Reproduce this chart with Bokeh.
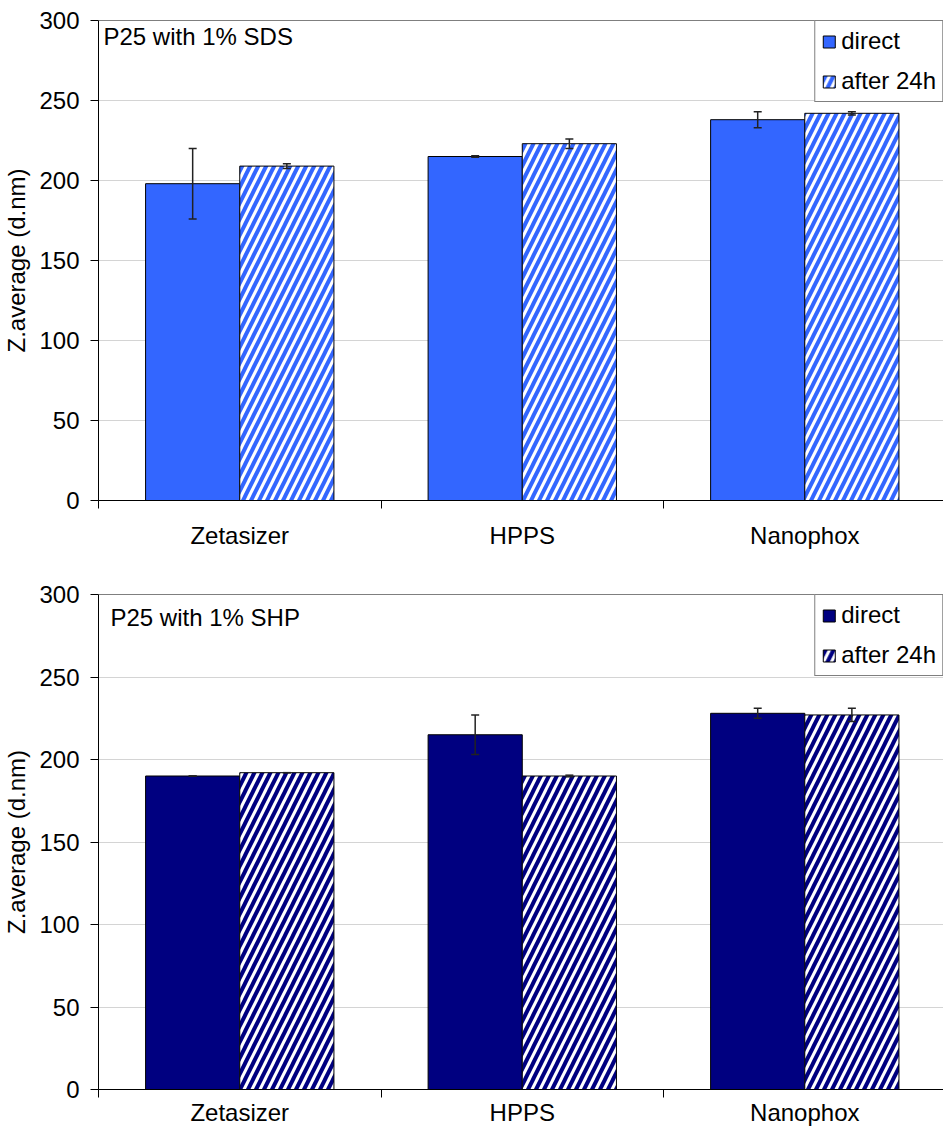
from bokeh.plotting import figure
from bokeh.models import (ColumnDataSource, Whisker, TeeHead, Legend, LegendItem,
                          Label, Span, Range1d, FixedTicker)
from bokeh.layouts import column
from bokeh.embed import file_html
from bokeh.resources import INLINE

# ---- data ----
instruments = ["Zetasizer", "HPPS", "Nanophox"]
series_labels = ["direct", "after 24h"]
titles = ["P25 with 1% SDS", "P25 with 1% SHP"]

sds_direct = [198, 215, 238]
sds_direct_err = [22, 0.5, 5]
sds_after = [209, 223, 242]
sds_after_err = [1.5, 3, 1]

shp_direct = [190, 215, 228]
shp_direct_err = [0, 12, 3]
shp_after = [192, 190, 227]
shp_after_err = [0, 0.5, 4]

y_ticks = [0, 50, 100, 150, 200, 250, 300]
y_label = "Z.average (d.nm)"

FONT = "Liberation Sans"
FS = "24px"


def make_chart(title, direct, direct_err, after, after_err, color,
               frame_h, top_border, bottom_border, label_standoff, title_dx, title_y):
    n = len(instruments)
    p = figure(frame_width=845, frame_height=frame_h, output_backend="svg",
               toolbar_location=None,
               x_range=Range1d(0, 2.991), y_range=Range1d(0, 300),
               min_border_left=90, min_border_right=0,
               min_border_top=top_border, min_border_bottom=bottom_border)
    p.outline_line_color = None
    p.background_fill_color = "white"
    p.border_fill_color = "white"

    centers = [i + 0.5 for i in range(n)]
    src_d = ColumnDataSource(dict(x=[c - 1 / 6 for c in centers], top=direct,
                                  upper=[v + e for v, e in zip(direct, direct_err)],
                                  lower=[v - e for v, e in zip(direct, direct_err)]))
    src_a = ColumnDataSource(dict(x=[c + 1 / 6 for c in centers], top=after,
                                  upper=[v + e for v, e in zip(after, after_err)],
                                  lower=[v - e for v, e in zip(after, after_err)]))

    r1 = p.vbar(x="x", top="top", width=1 / 3, source=src_d, fill_color=color,
                line_color="black", line_width=1)
    r2 = p.vbar(x="x", top="top", width=1 / 3, source=src_a, fill_color="white",
                hatch_pattern="/", hatch_color=color, hatch_scale=16, hatch_weight=4,
                line_color="black", line_width=1)

    for src in (src_d, src_a):
        w = Whisker(base="x", upper="upper", lower="lower", source=src,
                    line_color="#222222", line_width=1.5, level="overlay",
                    upper_head=TeeHead(size=8, line_color="#222222", line_width=1.5),
                    lower_head=TeeHead(size=8, line_color="#222222", line_width=1.5))
        p.add_layout(w)

    # top border of plot area
    p.add_layout(Span(location=300, dimension="width", line_color="black", line_width=1))

    # axes
    p.yaxis.ticker = FixedTicker(ticks=y_ticks)
    p.yaxis.minor_tick_line_color = None
    p.yaxis.major_tick_out = 8
    p.yaxis.major_tick_in = 0
    p.yaxis.axis_line_color = "black"
    p.yaxis.major_tick_line_color = "black"
    p.yaxis.major_label_text_font = FONT
    p.yaxis.major_label_text_font_size = FS
    p.yaxis.major_label_text_color = "black"
    p.yaxis.major_label_standoff = 11
    p.yaxis.axis_label = y_label
    p.yaxis.axis_label_text_font = FONT
    p.yaxis.axis_label_text_font_size = FS
    p.yaxis.axis_label_text_font_style = "normal"
    p.yaxis.axis_label_text_color = "black"
    p.yaxis.axis_label_standoff = 6

    p.xaxis.ticker = FixedTicker(ticks=centers, minor_ticks=list(range(n + 1)))
    p.xaxis.major_label_overrides = {c: name for c, name in zip(centers, instruments)}
    p.xaxis.major_tick_line_color = None
    p.xaxis.major_tick_out = 0
    p.xaxis.major_tick_in = 0
    p.xaxis.minor_tick_line_color = "black"
    p.xaxis.minor_tick_out = 8
    p.xaxis.minor_tick_in = 0
    p.xaxis.axis_line_color = "black"
    p.xaxis.major_label_text_font = FONT
    p.xaxis.major_label_text_font_size = FS
    p.xaxis.major_label_text_color = "black"
    p.xaxis.major_label_standoff = label_standoff

    p.xgrid.visible = False
    p.ygrid.ticker = FixedTicker(ticks=y_ticks)
    p.ygrid.grid_line_color = "#d4d4d4"
    p.ygrid.grid_line_width = 1

    # title inside the plot
    p.add_layout(Label(x=0, y=title_y, x_offset=title_dx, text=title, text_font=FONT,
                       text_font_size=FS, text_baseline="top", text_color="black"))

    legend = Legend(items=[LegendItem(label=series_labels[0], renderers=[r1]),
                           LegendItem(label=series_labels[1], renderers=[r2])],
                    location="top_right", margin=0, padding=6, spacing=12,
                    label_height=24, glyph_height=15, glyph_width=15, label_standoff=5,
                    label_text_font=FONT, label_text_font_size=FS,
                    label_text_color="black",
                    border_line_color="black", border_line_width=1,
                    background_fill_color="white", background_fill_alpha=1)
    p.add_layout(legend)
    return p


p1 = make_chart(titles[0], sds_direct, sds_direct_err, sds_after, sds_after_err,
                "#3366FF", frame_h=480, top_border=20, bottom_border=50,
                label_standoff=13, title_dx=5, title_y=298.5)
p2 = make_chart(titles[1], shp_direct, shp_direct_err, shp_after, shp_after_err,
                "#000080", frame_h=495, top_border=43, bottom_border=32,
                label_standoff=1, title_dx=12, title_y=294.5)

layout = column(p1, p2, spacing=0)
open("out.html", "w").write(file_html(layout, INLINE))
